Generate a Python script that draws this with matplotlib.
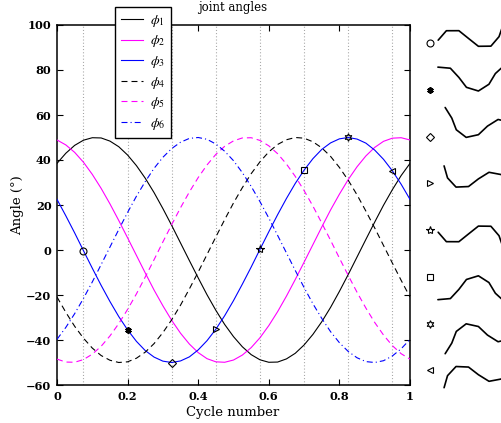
import numpy as np
import matplotlib
matplotlib.use('Agg')
import matplotlib.pyplot as plt

plt.rcParams['mathtext.fontset'] = 'stix'
plt.rcParams['lines.scale_dashes'] = False

# ---------------- data ----------------
cycle = np.linspace(0, 1, 41)

phi1 = [38.5, 43.0, 46.5, 48.8, 49.9, 49.8, 48.4, 45.9, 42.2, 37.5, 31.9, 25.5, 18.4, 10.9, 3.1,
        -4.7, -12.4, -19.9, -26.8, -33.1, -38.5, -43.0, -46.5, -48.8, -49.9, -49.8, -48.4, -45.9,
        -42.2, -37.5, -31.9, -25.5, -18.4, -10.9, -3.1, 4.7, 12.4, 19.9, 26.8, 33.1, 38.5]
phi2 = [48.9, 46.7, 43.4, 39.0, 33.6, 27.4, 20.5, 13.1, 5.4, -2.4, -10.2, -17.8, -24.8, -31.3,
        -37.0, -41.8, -45.6, -48.3, -49.7, -49.9, -48.9, -46.7, -43.4, -39.0, -33.6, -27.4, -20.5,
        -13.1, -5.4, 2.4, 10.2, 17.8, 24.8, 31.3, 37.0, 41.8, 45.6, 48.3, 49.7, 49.9, 48.9]
phi3 = [22.5, 15.2, 7.6, -0.3, -8.1, -15.7, -22.9, -29.6, -35.5, -40.6, -44.7, -47.6, -49.4, -50.0,
        -49.3, -47.5, -44.4, -40.3, -35.2, -29.2, -22.5, -15.2, -7.6, 0.3, 8.1, 15.7, 22.9, 29.6,
        35.5, 40.6, 44.7, 47.6, 49.4, 50.0, 49.3, 47.5, 44.4, 40.3, 35.2, 29.2, 22.5]
phi4 = [-20.9, -27.7, -33.9, -39.2, -43.6, -46.9, -49.0, -50.0, -49.7, -48.1, -45.4, -41.6, -36.7,
        -31.0, -24.5, -17.3, -9.8, -2.0, 5.8, 13.5, 20.9, 27.7, 33.9, 39.2, 43.6, 46.9, 49.0, 50.0,
        49.7, 48.1, 45.4, 41.6, 36.7, 31.0, 24.5, 17.3, 9.8, 2.0, -5.8, -13.5, -20.9]
phi5 = [-48.5, -49.8, -49.9, -48.7, -46.3, -42.8, -38.2, -32.7, -26.4, -19.5, -12.0, -4.3, 3.6,
        11.3, 18.8, 25.8, 32.2, 37.8, 42.5, 46.1, 48.5, 49.8, 49.9, 48.7, 46.3, 42.8, 38.2, 32.7,
        26.4, 19.5, 12.0, 4.3, -3.6, -11.3, -18.8, -25.8, -32.2, -37.8, -42.5, -46.1, -48.5]
phi6 = [-39.7, -34.4, -28.3, -21.5, -14.2, -6.5, 1.3, 9.1, 16.7, 23.9, 30.4, 36.3, 41.2, 45.1,
        47.9, 49.6, 50.0, 49.2, 47.1, 43.9, 39.7, 34.4, 28.3, 21.5, 14.2, 6.5, -1.3, -9.1, -16.7,
        -23.9, -30.4, -36.3, -41.2, -45.1, -47.9, -49.6, -50.0, -49.2, -47.1, -43.9, -39.7]

series_labels = [r'$\phi_1$', r'$\phi_2$', r'$\phi_3$', r'$\phi_4$', r'$\phi_5$', r'$\phi_6$']

# snapshot times (markers on phi3 and snake poses)
snap_t = [0.075, 0.2, 0.325, 0.45, 0.575, 0.7, 0.825, 0.95]
# head link orientation of each snake pose (deg), read from the sketches
head_angle = [49, -5, -58, -74, -49, 5, 58, 74]
# vertical offset of the middle joint of each pose relative to its marker row (px)
pose_dy = [3, 1, -2, -4.5, -4, -1, 3, 4.5]

x_ticks = [0, 0.2, 0.4, 0.6, 0.8, 1]
x_ticklabels = ['0', '0.2', '0.4', '0.6', '0.8', '1']
y_ticks = [-60, -40, -20, 0, 20, 40, 60, 80, 100]

# ---------------- figure ----------------
W, H = 502, 423
fig = plt.figure(figsize=(W / 100, H / 100), dpi=100)
ax = fig.add_axes([57 / W, 38 / H, 353 / W, 360 / H])

all_phi = [phi1, phi2, phi3, phi4, phi5, phi6]
colors = ['k', '#ff00ff', '#0000ff', 'k', '#ff00ff', '#0000ff']
dash = [None, None, None, (0, (4.3, 2.9)), (0, (4.3, 2.9)), (0, (4.3, 2.2, 0.8, 2.2))]
handles = []
for phi, c, d, lab in zip(all_phi, colors, dash, series_labels):
    ls = '-' if d is None else d
    h, = ax.plot(cycle, phi, color=c, lw=0.8, ls=ls, label=lab, zorder=3)
    handles.append(h)

for t in snap_t:
    ax.axvline(t, color='#a0a0a0', lw=0.8, ls=(0, (0.7, 1.6)), zorder=1)

hexagram = (6, 1, 0)
asterisk = (6, 2, 0)
markers = ['o', asterisk, 'D', '>', '*', 's', hexagram, '<']
msizes = [5, 4.5, 4.5, 5, 6, 4.5, 5.5, 5]
idx = [int(round(t / 0.025)) for t in snap_t]
for t, i, m, s in zip(snap_t, idx, markers, msizes):
    if m == asterisk:
        ax.plot([t], [phi3[i]], marker=m, ms=s, mec='k', mfc='k', mew=1.4, ls='none', zorder=4)
    else:
        ax.plot([t], [phi3[i]], marker=m, ms=s, mec='k', mfc='none', mew=0.8, ls='none', zorder=4)

ax.set_xlim(0, 1)
ax.set_ylim(-60, 100)
ax.set_xticks(x_ticks)
ax.set_xticklabels(x_ticklabels)
ax.set_yticks(y_ticks)
ax.tick_params(direction='in', top=True, right=True, length=4, width=0.8, pad=4)
for lbl in ax.get_xticklabels() + ax.get_yticklabels():
    lbl.set_fontfamily('DejaVu Serif')
    lbl.set_fontweight('bold')
    lbl.set_fontsize(8.2)
for sp in ax.spines.values():
    sp.set_linewidth(1.1)

leg = ax.legend(handles=handles, loc='upper left', bbox_to_anchor=(115 / W, 1 - 7 / H),
                bbox_transform=fig.transFigure, fancybox=False, framealpha=1,
                edgecolor='k', fontsize=10, handlelength=1.6, handletextpad=0.5,
                labelspacing=0.33, borderpad=0.42, borderaxespad=0)
leg.get_frame().set_linewidth(1.0)
leg.set_zorder(10)

fig.text(233 / W, 1 - 8 / H, 'joint angles', ha='center', va='center',
         fontfamily='DejaVu Serif', fontsize=8.5)
fig.text(233 / W, 1 - 412 / H, 'Cycle number', ha='center', va='center',
         fontfamily='DejaVu Serif', fontsize=9.5)
fig.text(18 / W, 1 - 205 / H, 'Angle (°)', ha='center', va='center', rotation=90,
         fontfamily='DejaVu Serif', fontsize=9.5)

# ---------------- snake poses ----------------
rax = fig.add_axes([412 / W, 0, 150 / W, 1])
rax.set_xlim(412, 562)
rax.set_ylim(H, 0)
rax.axis('off')

link = 12.5
row0, row_step = 43.3, 46.7
for k, (i, m, s) in enumerate(zip(idx, markers, msizes)):
    row = row0 + k * row_step
    angles = [p[i] for p in all_phi]
    heads = [head_angle[k]]
    for a in angles:
        heads.append(heads[-1] - a)
    xs, ys = [0.0], [0.0]
    for hd in heads:
        xs.append(xs[-1] + link * np.cos(np.radians(hd)))
        ys.append(ys[-1] - link * np.sin(np.radians(hd)))
    xs = np.array(xs); ys = np.array(ys)
    xs = xs - xs[4] + 478.4
    ys = ys - ys[4] + row + pose_dy[k]
    rax.plot(xs, ys, color='k', lw=1.2, solid_capstyle='round', solid_joinstyle='round',
             clip_on=False)
    if m == asterisk:
        rax.plot([430], [row], marker=m, ms=s, mec='k', mfc='k', mew=1.4, ls='none')
    else:
        rax.plot([430], [row], marker=m, ms=s, mec='k', mfc='none', mew=0.8, ls='none')

fig.savefig('out.png', dpi=100)
